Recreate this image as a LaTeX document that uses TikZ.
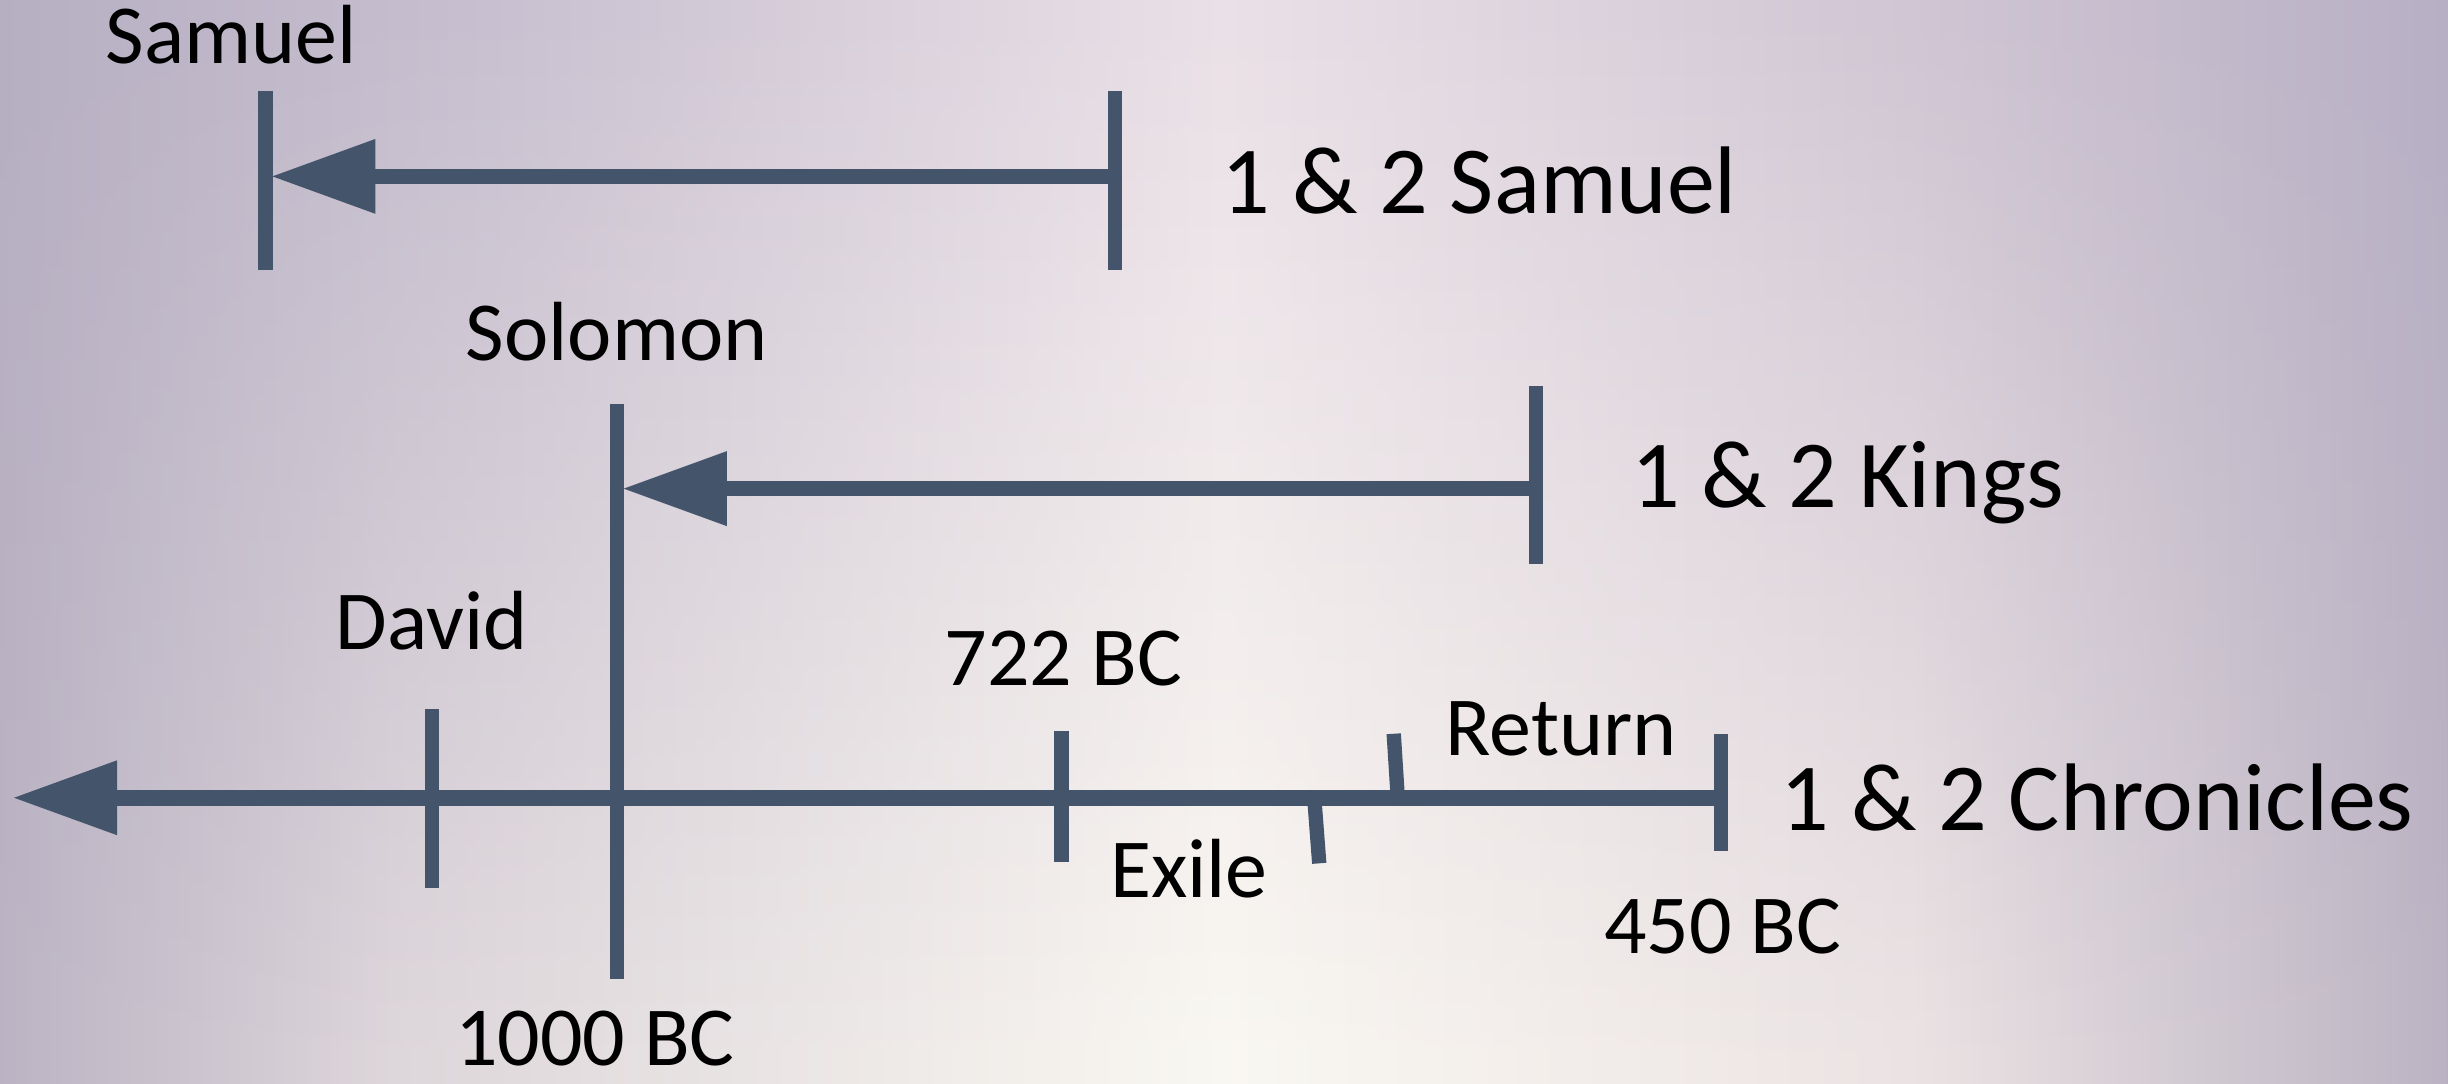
\documentclass[tikz,border=0pt]{standalone}
\usepackage{fontspec}
\setmainfont{Carlito}
\usepackage{tikz}
\usetikzlibrary{positioning, arrows.meta, fadings}

\definecolor{barblue}{HTML}{44546A}
% background colours, top row and bottom row
\definecolor{bgA}{RGB}{182,175,194}
\definecolor{bgB}{RGB}{200,192,208}
\definecolor{bgC}{RGB}{234,224,231}
\definecolor{bgD}{RGB}{208,198,212}
\definecolor{bgE}{RGB}{183,175,196}
\definecolor{lwA}{RGB}{188,180,196}
\definecolor{lwB}{RGB}{222,215,219}
\definecolor{lwC}{RGB}{250,248,242}
\definecolor{lwD}{RGB}{236,228,228}
\definecolor{lwE}{RGB}{188,180,195}

\pgfdeclarehorizontalshading{bgtop}{100bp}{color(0bp)=(bgA); color(25bp)=(bgA); color(35bp)=(bgB); color(50bp)=(bgC); color(64bp)=(bgD); color(75bp)=(bgE); color(100bp)=(bgE)}
\pgfdeclarehorizontalshading{bglow}{100bp}{color(0bp)=(lwA); color(25bp)=(lwA); color(33bp)=(lwB); color(50bp)=(lwC); color(64bp)=(lwD); color(75bp)=(lwE); color(100bp)=(lwE)}

\begin{document}
\begin{tikzpicture}[
    bar/.style={draw=barblue, line width=0.1cm},
    tick/.style={draw=barblue, line width=0.092cm},
    point/.style={-{Triangle[length=0.66cm, width=0.48cm, line width=0pt]}},
    lbl/.style={font=\fontsize{15.3}{18}\selectfont, inner sep=0pt},
    book/.style={font=\fontsize{17.5}{21}\selectfont, inner sep=0pt, anchor=base west}
]

%%%%% Background
\useasboundingbox (0,0) rectangle (15.68,6.94);
\shade[shading=bgtop] (0,0) rectangle (15.68,6.94);
\shade[shading=bglow, path fading=north] (0,0) rectangle (15.68,6.94);

%%%%% 1 & 2 Samuel
\coordinate (samLtop) at (1.70,6.36);
\coordinate (samLbot) at (1.70,5.21);
\coordinate (samRtop) at (7.14,6.36);
\coordinate (samRbot) at (7.14,5.21);
\coordinate (samL)    at (1.70,5.81);
\coordinate (samR)    at (7.14,5.81);

\node[lbl, above=0.16cm of samLtop, xshift=-0.22cm] (samuel) {Samuel};
\node[book] (bkSamuel) at (7.82,5.57) {1 \& 2 Samuel};

% 1 & 2 Kings
\coordinate (solTop) at (3.95,4.35);
\coordinate (solBot) at (3.95,0.67);
\coordinate (kinTop) at (9.84,4.47);
\coordinate (kinBot) at (9.84,3.33);
\coordinate (kinL)   at (3.95,3.81);
\coordinate (kinR)   at (9.84,3.81);

\node[lbl, above=0.27cm of solTop] (solomon) {Solomon};
\node[lbl, below=0.20cm of solBot, xshift=-0.14cm] (bc1000) {1000 BC};
\node[book] (bkKings) at (10.44,3.69) {1 \& 2 Kings};

% 1 & 2 Chronicles
\coordinate (chrL)   at (0.09,1.83);
\coordinate (chrR)   at (11.025,1.83);
\coordinate (davTop) at (2.765,2.40);
\coordinate (davBot) at (2.765,1.25);
\coordinate (asTop)  at (6.80,2.26);
\coordinate (asBot)  at (6.80,1.42);
\coordinate (exTop)  at (8.418,1.83);
\coordinate (exBot)  at (8.45,1.41);
\coordinate (rtBot)  at (8.953,1.83);
\coordinate (rtTop)  at (8.927,2.24);
\coordinate (endTop) at (11.025,2.24);
\coordinate (endBot) at (11.025,1.49);

\node[lbl, above=0.37cm of davTop] (david) {David};
\node[lbl, above=0.28cm of asTop, xshift=0.01cm] (bc722) {722 BC};
\node[lbl, anchor=base] (exile)  at (7.615,1.19) {Exile};
\node[lbl, anchor=base] (return) at (10.00,2.10) {Return};
\node[lbl, below=0.30cm of endBot, xshift=0.01cm] (bc450) {450 BC};
\node[book] (bkChron) at (11.40,1.62) {1 \& 2 Chronicles};

%  Draw bars and ticks

\draw[bar, point, shorten >=0.045cm] (samR) -- (samL);
\draw[tick] (samLtop) -- (samLbot);
\draw[tick] (samRtop) -- (samRbot);

\draw[bar, point, shorten >=0.045cm] (kinR) -- (kinL);
\draw[tick] (solTop) -- (solBot);
\draw[tick] (kinTop) -- (kinBot);

\draw[bar, point] (chrR) -- (chrL);
\draw[tick] (davTop) -- (davBot);
\draw[tick] (asTop) -- (asBot);
\draw[tick] (exTop) -- (exBot);
\draw[tick] (rtBot) -- (rtTop);
\draw[tick] (endTop) -- (endBot);

\end{tikzpicture}
\end{document}
